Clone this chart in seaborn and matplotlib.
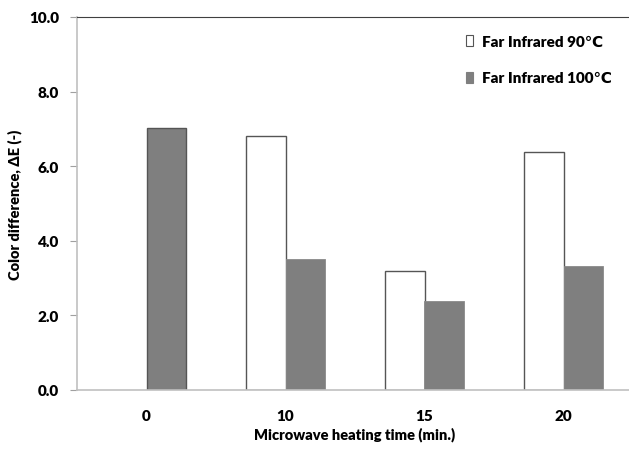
import numpy as np
import pandas as pd
import matplotlib
matplotlib.use("Agg")
import matplotlib.pyplot as plt
import seaborn as sns
from matplotlib.patches import Patch

categories = ["0", "10", "15", "20"]
series_names = ["Far Infrared 90\u2103", "Far Infrared 100\u2103"]
fir90 = [np.nan, 6.82, 3.18, 6.38]
fir100 = [7.02, 3.52, 2.39, 3.32]
yticks = [0.0, 2.0, 4.0, 6.0, 8.0, 10.0]

sns.set_theme(style="white")
plt.rcParams["font.family"] = ["Lato", "DejaVu Sans"]
plt.rcParams["text.color"] = "black"
plt.rcParams["axes.labelcolor"] = "black"
plt.rcParams["xtick.color"] = "black"
plt.rcParams["ytick.color"] = "black"

df = pd.DataFrame({
    "time": categories * 2,
    "value": fir90 + fir100,
    "series": [series_names[0]] * 4 + [series_names[1]] * 4,
})

fig = plt.figure(figsize=(6.29, 4.56), dpi=100)
ax = fig.add_axes([77 / 629, 1 - 391 / 456, (633 - 77) / 629, (391 - 18) / 456])

sns.barplot(data=df, x="time", y="value", hue="series", order=categories,
            hue_order=series_names, palette=["white", "#7f7f7f"],
            width=0.575, gap=0, ax=ax, legend=False, saturation=1)

n = len(categories)
for i, p in enumerate(ax.patches):
    if i < n:
        p.set_edgecolor("#555555")
        p.set_linewidth(1.0)
    else:
        p.set_edgecolor("#8a8a8a")
        p.set_linewidth(0.6)

ax.set_ylim(0, 10)
ax.set_xlim(-0.5, n - 0.5)
ax.set_yticks(yticks)
ax.set_yticklabels([f"{t:.1f}" for t in yticks], fontsize=11, fontweight="heavy")
ax.set_xticks(range(n))
ax.set_xticklabels(categories, fontsize=11, fontweight="heavy")
ax.tick_params(axis="y", which="both", left=True, length=5, width=0.8,
               color="#a0a0a0", pad=8)
ax.tick_params(axis="x", bottom=False, pad=8)

for s in ["left", "bottom"]:
    ax.spines[s].set_color("#c0c0c0")
    ax.spines[s].set_linewidth(1.2)
ax.spines["top"].set_color("#404040")
ax.spines["top"].set_linewidth(0.8)
ax.spines["right"].set_visible(False)

ax.set_xlabel("Microwave heating time (min.)", fontsize=10.5, fontweight="heavy", labelpad=3)
ax.set_ylabel("Color difference, \u0394E (-)", fontsize=10.5, fontweight="heavy", labelpad=5)

handles = [Patch(facecolor="white", edgecolor="#555555", linewidth=0.8),
           Patch(facecolor="#7f7f7f", edgecolor="#7f7f7f", linewidth=0.8)]
fig.legend(handles, series_names, loc="upper left",
           bbox_to_anchor=(452 / 629, 1 - 22 / 456), frameon=False,
           prop={"weight": "heavy", "size": 11}, handlelength=0.5,
           handleheight=0.75, handletextpad=0.55, labelspacing=1.55)

fig.savefig("out.png", dpi=100)
